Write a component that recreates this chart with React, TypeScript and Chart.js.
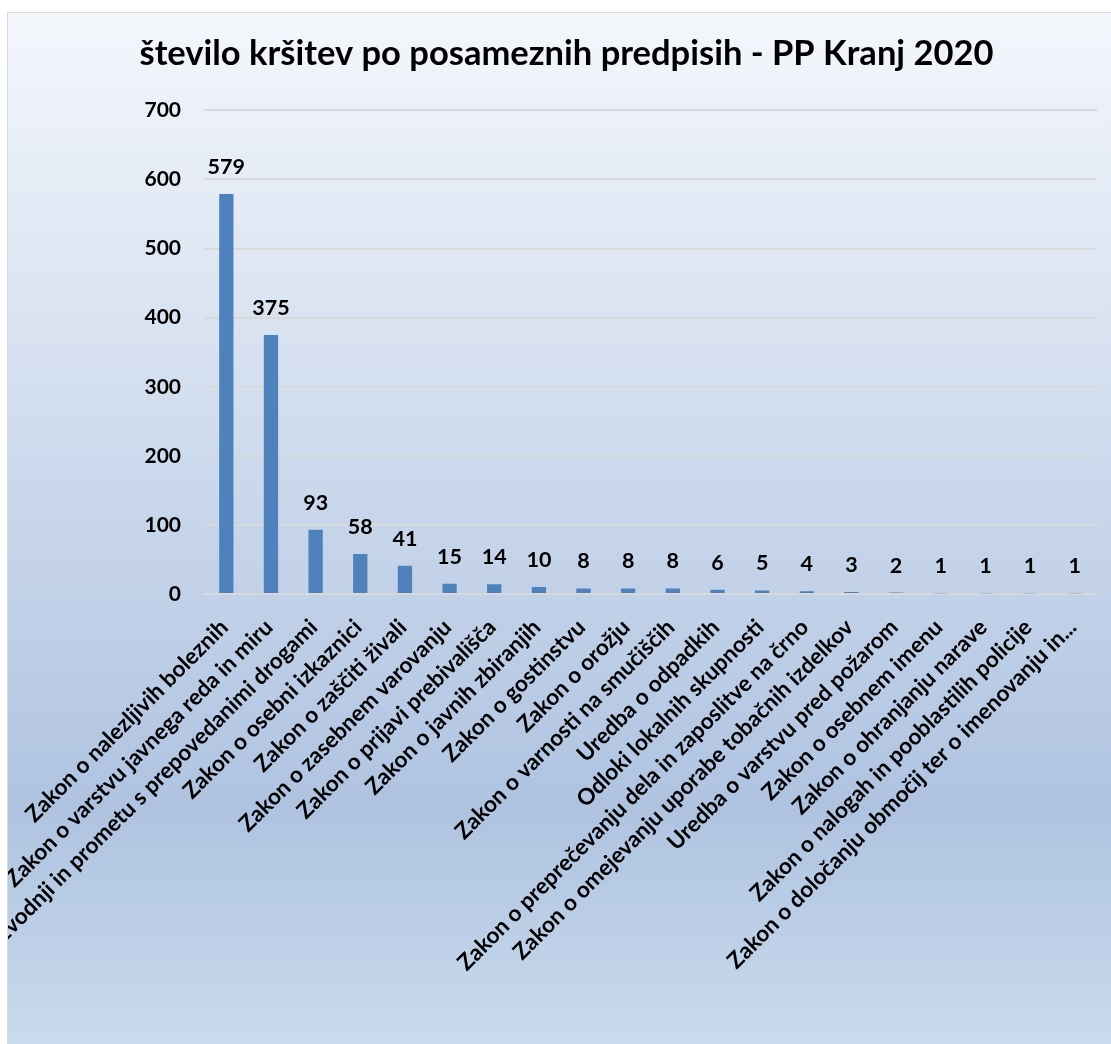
import React, { useEffect, useRef } from "react";
import { Chart, registerables } from "chart.js";

Chart.register(...registerables);

const titleText = "število kršitev po posameznih predpisih - PP Kranj 2020";

const categories = [
  "Zakon o nalezljivih boleznih",
  "Zakon o varstvu javnega reda in miru",
  "Zakon o proizvodnji in prometu s prepovedanimi drogami",
  "Zakon o osebni izkaznici",
  "Zakon o zaščiti živali",
  "Zakon o zasebnem varovanju",
  "Zakon o prijavi prebivališča",
  "Zakon o javnih zbiranjih",
  "Zakon o gostinstvu",
  "Zakon o orožju",
  "Zakon o varnosti na smučiščih",
  "Uredba o odpadkih",
  "Odloki lokalnih skupnosti",
  "Zakon o preprečevanju dela in zaposlitve na črno",
  "Zakon o omejevanju uporabe tobačnih izdelkov",
  "Uredba o varstvu pred požarom",
  "Zakon o osebnem imenu",
  "Zakon o ohranjanju narave",
  "Zakon o nalogah in pooblastilih policije",
  "Zakon o določanju območij ter o imenovanju in...",
];

const values = [579, 375, 93, 58, 41, 15, 14, 10, 8, 8, 8, 6, 5, 4, 3, 2, 1, 1, 1, 1];

const yMin = 0;
const yMax = 700;
const yStep = 100;

const FONT = "Lato";
const CANVAS_W = 1103;
const CANVAS_H = 1031;

const backgroundPlugin = {
  id: "bgGradient",
  beforeDraw(chart: any) {
    const { ctx, width, height } = chart;
    const g = ctx.createLinearGradient(0, 0, 0, height);
    g.addColorStop(0, "#f4f7fc");
    g.addColorStop(0.77, "#afc3e1");
    g.addColorStop(1, "#c9daec");
    ctx.save();
    ctx.fillStyle = g;
    ctx.fillRect(0, 0, width, height);
    ctx.restore();
  },
};

const dataLabelPlugin = {
  id: "valueLabels",
  afterDatasetsDraw(chart: any) {
    const { ctx } = chart;
    const meta = chart.getDatasetMeta(0);
    ctx.save();
    ctx.font = `bold 21.5px ${FONT}`;
    ctx.fillStyle = "#000000";
    ctx.textAlign = "center";
    ctx.textBaseline = "middle";
    meta.data.forEach((el: any, i: number) => {
      ctx.fillText(String(values[i]), el.x, el.y - 27);
    });
    ctx.restore();
  },
};

export default function App() {
  const canvasRef = useRef<HTMLCanvasElement | null>(null);

  useEffect(() => {
    if (!canvasRef.current) return;
    const chart = new Chart(canvasRef.current, {
      type: "bar",
      data: {
        labels: categories,
        datasets: [
          {
            data: values,
            backgroundColor: "#4f81bd",
            borderWidth: 0,
            barPercentage: 0.32,
            categoryPercentage: 1,
          },
        ],
      },
      options: {
        responsive: false,
        animation: false,
        devicePixelRatio: 1,
        layout: { padding: { left: 14, right: 0, top: 0, bottom: 0 } },
        plugins: {
          legend: { display: false },
          tooltip: { enabled: false },
          title: {
            display: true,
            text: titleText,
            color: "#000000",
            font: { family: FONT, size: 34.5, weight: "bold" },
            padding: { top: 20, bottom: 36 },
          },
        },
        scales: {
          x: {
            grid: { display: false, drawTicks: false },
            border: { display: true, color: "#d9d9d9", width: 2 },
            ticks: {
              autoSkip: false,
              minRotation: 45,
              maxRotation: 45,
              padding: 20,
              labelOffset: -2,
              color: "#000000",
              font: { family: FONT, size: 22.5, weight: "bold" },
            },
            afterFit(scale: any) {
              scale.height = 450;
              scale.paddingLeft = 0;
              scale.paddingRight = 14;
            },
          },
          y: {
            min: yMin,
            max: yMax,
            grid: { color: "#d9d9d9", lineWidth: 2, drawTicks: false },
            border: { display: false },
            ticks: {
              stepSize: yStep,
              padding: 23,
              color: "#000000",
              font: { family: FONT, size: 21, weight: "bold" },
            },
            afterFit(scale: any) {
              scale.width = 182;
            },
          },
        },
      },
      plugins: [backgroundPlugin, dataLabelPlugin],
    });
    return () => chart.destroy();
  }, []);

  return (
    <div
      style={{
        position: "fixed",
        left: 7,
        top: 12,
        width: CANVAS_W,
        height: CANVAS_H,
        borderLeft: "1px solid #d9d9d9",
        borderTop: "1px solid #d9d9d9",
        background: "#ffffff",
      }}
    >
      <canvas
        ref={canvasRef}
        width={CANVAS_W}
        height={CANVAS_H}
        style={{ display: "block", width: CANVAS_W, height: CANVAS_H }}
      />
    </div>
  );
}
